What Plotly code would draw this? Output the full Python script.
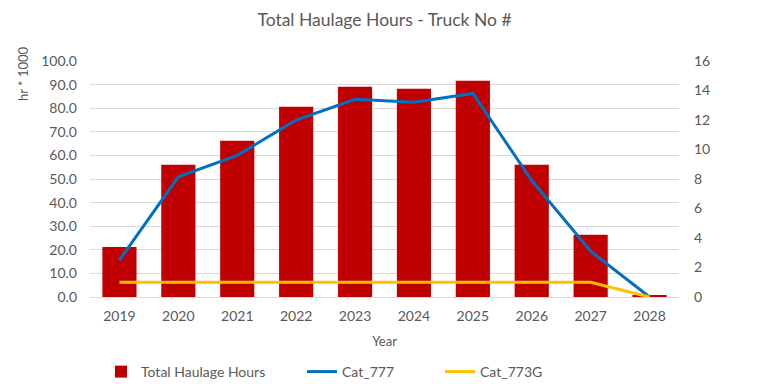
import plotly.graph_objects as go

years = ["2019", "2020", "2021", "2022", "2023", "2024", "2025", "2026", "2027", "2028"]
total_haulage = [21.2, 56.0, 66.2, 80.6, 89.1, 88.2, 91.6, 56.0, 26.4, 0.9]
cat_777 = [2.5, 8.15, 9.6, 12.0, 13.4, 13.2, 13.8, 7.9, 3.1, 0.0]
cat_773g = [1, 1, 1, 1, 1, 1, 1, 1, 1, 0]

left_ticks = [0, 10, 20, 30, 40, 50, 60, 70, 80, 90, 100]
right_ticks = [0, 2, 4, 6, 8, 10, 12, 14, 16]

FONT = "Lato, Carlito, 'Open Sans', sans-serif"
GREY = "#595959"

fig = go.Figure()
fig.add_trace(go.Bar(x=years, y=total_haulage, name="Total Haulage Hours",
                     marker=dict(color="#C00000", line=dict(width=0)),
                     legend="legend"))
fig.add_trace(go.Scatter(x=years, y=cat_777, name="Cat_777", mode="lines",
                         line=dict(color="#0070C0", width=3), yaxis="y2",
                         legend="legend2"))
fig.add_trace(go.Scatter(x=years, y=cat_773g, name="Cat_773G", mode="lines",
                         line=dict(color="#FFC000", width=3), yaxis="y2",
                         legend="legend3"))

leg_common = dict(orientation="h", xref="container", yref="container",
                  yanchor="middle", xanchor="left", y=12 / 384,
                  font=dict(family=FONT, size=14, color=GREY),
                  bgcolor="rgba(0,0,0,0)", borderwidth=0)

fig.update_layout(
    width=761, height=384,
    margin=dict(l=90, r=82, t=61, b=87, autoexpand=False),
    paper_bgcolor="white", plot_bgcolor="white",
    font=dict(family=FONT, color=GREY, size=13),
    title=dict(text="Total Haulage Hours - Truck No #", x=0.5, xref="paper",
               y=1 - 20 / 384, yanchor="middle",
               font=dict(family=FONT, size=17.5, color=GREY)),
    bargap=0.42,
    showlegend=True,
    legend=dict(x=101 / 761, **leg_common),
    legend2=dict(x=302 / 761, **leg_common),
    legend3=dict(x=440 / 761, **leg_common),
    xaxis=dict(type="category", showgrid=False, showline=True, linecolor="#D9D9D9",
               linewidth=1, ticks="", tickfont=dict(size=14, color=GREY),
               ticklabelstandoff=6,
               title=dict(text="Year", font=dict(size=13, color=GREY), standoff=14)),
    yaxis=dict(range=[0, 100], tickvals=left_ticks, tickformat=".1f",
               showgrid=True, gridcolor="#D9D9D9", gridwidth=1, zeroline=False,
               showline=False, ticks="", ticklabelstandoff=12,
               tickfont=dict(size=14, color=GREY)),
    yaxis2=dict(range=[0, 16], tickvals=right_ticks, overlaying="y", side="right",
                showgrid=False, zeroline=False, showline=False, ticks="",
                ticklabelstandoff=14,
                tickfont=dict(size=14, color=GREY)),
    annotations=[dict(text="hr * 1000", textangle=-90, xref="paper", yref="paper",
                      x=(23 - 90) / 589, y=(297 - 74) / 236, showarrow=False,
                      xanchor="center", yanchor="middle",
                      font=dict(family=FONT, size=13, color=GREY))],
)

fig.write_html("out.html", config={"displayModeBar": False},
               post_script="document.body.style.margin='0';document.body.style.overflow='hidden';")
